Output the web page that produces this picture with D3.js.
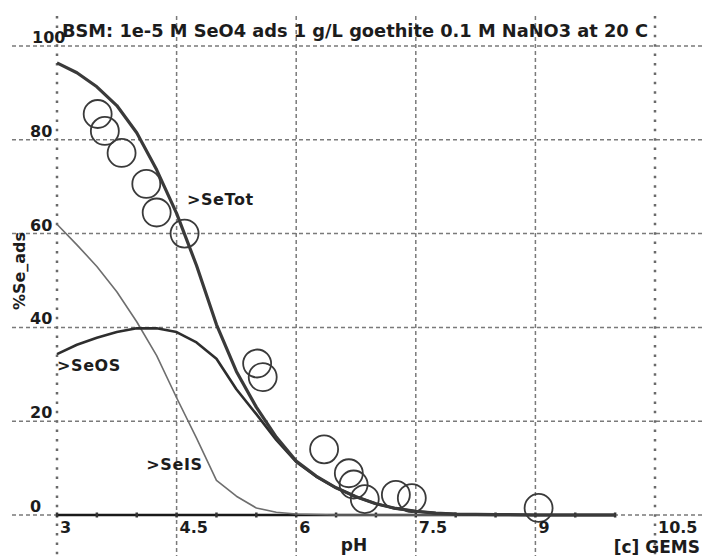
<!DOCTYPE html>
<html>
<head>
<meta charset="utf-8">
<script src="https://cdn.jsdelivr.net/npm/d3@7"></script>
<style>
  body { margin: 0; background: #fff; }
  svg { display: block; }
  text { font-family: "DejaVu Sans", "Liberation Sans", sans-serif; fill: #1c1c1c; font-weight: bold; }
  .grid { stroke: #7a7a7a; stroke-width: 1.5px; stroke-dasharray: 4 3; }
  .frame { stroke: #6a6a6a; stroke-width: 2.5px; stroke-dasharray: 2.5 6.9; }
  .curve { fill: none; stroke-linejoin: round; }
</style>
</head>
<body>
<svg id="chart" width="703" height="556"></svg>
<script>
// model curves, computed every 0.25 pH
const pH = [3, 3.25, 3.5, 3.75, 4, 4.25, 4.5, 4.75, 5, 5.25, 5.5, 5.75, 6, 6.25, 6.5, 6.75,
            7, 7.25, 7.5, 7.75, 8, 8.5, 9, 9.5, 10];
const seTot = [96.4, 94.3, 91.3, 87.3, 81.5, 73.6, 64.3, 53.2, 40.6, 30.6, 23.0, 16.6, 11.5,
               8.3, 5.8, 3.9, 2.4, 1.4, 0.8, 0.4, 0.2, 0.1, 0, 0, 0];
const seOS = [34.3, 36.3, 37.8, 39.0, 39.8, 39.8, 39.0, 36.8, 33.3, 26.8, 21.5, 16.0, 11.3,
              8.2, 5.8, 3.9, 2.4, 1.4, 0.8, 0.4, 0.2, 0.1, 0, 0, 0];
const seIS = [62.0, 57.6, 53.0, 47.6, 41.2, 34.0, 25.0, 16.4, 7.4, 4.0, 1.5, 0.6, 0.2,
              0.1, 0, 0, 0, 0, 0, 0, 0, 0, 0, 0, 0];

// measured adsorption (circles)
const expPH = [3.51, 3.6, 3.81, 4.12, 4.25, 4.6, 5.51, 5.58, 6.35, 6.66, 6.72, 6.86, 7.25, 7.45, 9.04];
const expSe = [85.5, 81.9, 77.2, 70.6, 64.5, 60.0, 32.3, 29.4, 14.0, 8.9, 6.5, 3.4, 4.3, 3.6, 1.5];

const xTicks = [3, 4.5, 6, 7.5, 9, 10.5];
const yTicks = [0, 20, 40, 60, 80, 100];
const xMinor = d3.range(3, 10.01, 0.5);

const title = 'BSM: 1e-5 M SeO4 ads 1 g/L goethite 0.1 M NaNO3 at 20 C';

const curveLabels = [
  {text: '>SeTot', x: 4.63, y: 66},
  {text: '>SeOS', x: 3.0, y: 30.8},
  {text: '>SeIS', x: 4.12, y: 9.5}
];

const width = 703, height = 556;
const x = d3.scaleLinear().domain([3, 10.5]).range([57, 655]);
const y = d3.scaleLinear().domain([0, 100]).range([515, 46]);

const svg = d3.select('#chart');

// grid
svg.append('g').selectAll('line').data(yTicks).join('line')
  .attr('class', 'grid')
  .attr('x1', 12).attr('x2', width)
  .attr('y1', d => y(d)).attr('y2', d => y(d));

svg.append('g').selectAll('line').data(xTicks).join('line')
  .attr('class', d => (d === 3 || d === 10.5) ? 'frame' : 'grid')
  .attr('x1', d => x(d)).attr('x2', d => x(d))
  .attr('y1', 16).attr('y2', height);

// black baseline with half-unit ticks
svg.append('line')
  .attr('x1', x(3)).attr('x2', x(10))
  .attr('y1', y(0)).attr('y2', y(0))
  .attr('stroke', '#1a1a1a').attr('stroke-width', 2.6);
svg.append('g').selectAll('line').data(xMinor).join('line')
  .attr('x1', d => x(d)).attr('x2', d => x(d))
  .attr('y1', y(0) - 2.5).attr('y2', y(0) + 2.5)
  .attr('stroke', '#333').attr('stroke-width', 2.5);

// curves
const line = (vals) => d3.line()
  .x((d, i) => x(pH[i]))
  .y(d => y(d))(vals);

svg.append('path').attr('class', 'curve').attr('d', line(seIS))
  .attr('stroke', '#6e6e6e').attr('stroke-width', 1.6);
svg.append('path').attr('class', 'curve').attr('d', line(seOS))
  .attr('stroke', '#2e2e2e').attr('stroke-width', 2.6);
svg.append('path').attr('class', 'curve').attr('d', line(seTot))
  .attr('stroke', '#3a3a3a').attr('stroke-width', 3.2);

// experimental points
svg.append('g').selectAll('circle').data(expPH).join('circle')
  .attr('cx', d => x(d))
  .attr('cy', (d, i) => y(expSe[i]))
  .attr('r', 14)
  .attr('fill', 'none')
  .attr('stroke', '#3a3a3a')
  .attr('stroke-width', 1.8);

// curve labels
svg.append('g').selectAll('text').data(curveLabels).join('text')
  .attr('x', d => x(d.x)).attr('y', d => y(d.y))
  .attr('font-size', 16).attr('letter-spacing', 0.6)
  .text(d => d.text);

// tick labels
svg.append('g').selectAll('text').data(yTicks).join('text')
  .attr('x', d => d === 100 ? 32 : 30)
  .attr('y', d => y(d) - 3)
  .attr('font-size', 16)
  .text(d => d);

svg.append('g').selectAll('text').data(xTicks).join('text')
  .attr('x', d => x(d) + 3)
  .attr('y', 533)
  .attr('font-size', 16)
  .text(d => d);

// title and axis titles
svg.append('text')
  .attr('x', 62).attr('y', 37)
  .attr('font-size', 17)
  .attr('textLength', 586).attr('lengthAdjust', 'spacingAndGlyphs')
  .text(title);

svg.append('text')
  .attr('transform', 'translate(25,271) rotate(-90)')
  .attr('text-anchor', 'middle')
  .attr('font-size', 16)
  .text('%Se_ads');

svg.append('text')
  .attr('x', 354).attr('y', 551)
  .attr('text-anchor', 'middle')
  .attr('font-size', 17)
  .text('pH');

svg.append('text')
  .attr('x', 700).attr('y', 553)
  .attr('text-anchor', 'end')
  .attr('font-size', 17)
  .text('[c] GEMS');
</script>
</body>
</html>
